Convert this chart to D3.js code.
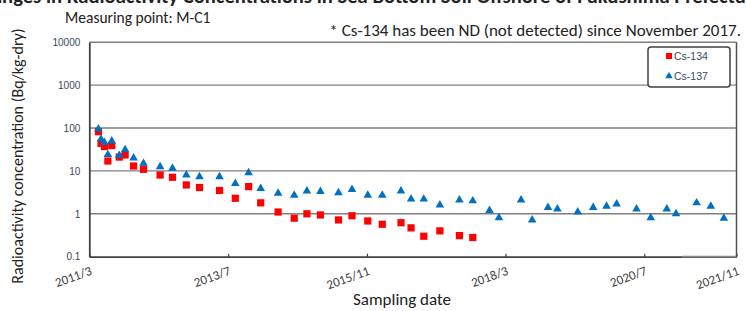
<!DOCTYPE html>
<html>
<head>
<meta charset="utf-8">
<script src="https://cdn.jsdelivr.net/npm/d3@7"></script>
<style>
  html, body { margin: 0; padding: 0; background: #fff; }
  svg { display: block; }
  .cal { font-family: Carlito, Calibri, Lato, "Open Sans", sans-serif; }
  .ari { font-family: "Liberation Sans", Arial, sans-serif; }
</style>
</head>
<body>
<svg id="chart" width="746" height="311"></svg>
<script>
// ---------- data ----------
const sampleDates = [
  "2011-04-26","2011-05-12","2011-06-02","2011-06-23","2011-07-17","2011-09-01","2011-10-07","2011-11-28",
  "2012-01-28","2012-05-09","2012-07-24","2012-10-17","2013-01-06","2013-05-09","2013-08-14","2013-11-04",
  "2014-01-17","2014-05-04","2014-08-11","2014-10-28","2015-01-19","2015-05-10","2015-08-01","2015-11-06",
  "2016-02-03","2016-05-28","2016-07-29","2016-10-15","2017-01-22","2017-05-22","2017-08-12","2017-11-23",
  "2018-01-20","2018-06-05","2018-08-12","2018-11-17","2019-01-14","2019-05-19","2019-08-22","2019-11-12",
  "2020-01-13","2020-05-14","2020-08-04","2020-10-28","2020-12-16","2021-04-04","2021-06-18","2021-08-26"
];
// Cs-134 (ND since November 2017)
const cs134 = [
  82, 44, 37, 17, 39, 21, 23.5, 13,
  10.9, 8.0, 7.1, 4.7, 4.1, 3.5, 2.3, 4.3,
  1.8, 1.1, 0.79, 1.0, 0.94, 0.72, 0.90, 0.68,
  0.57, 0.62, 0.47, 0.30, 0.40, 0.31, 0.28
];
const cs137 = [
  95, 55, 46, 24, 50, 23, 31, 20,
  15, 12.5, 11.5, 8.0, 7.3, 7.3, 5.1, 9.1,
  3.9, 3.0, 2.7, 3.4, 3.3, 3.1, 3.7, 2.7,
  2.7, 3.4, 2.2, 2.2, 1.6, 2.1, 2.0, 1.2,
  0.81, 2.1, 0.72, 1.4, 1.3, 1.1, 1.4, 1.5,
  1.7, 1.3, 0.81, 1.3, 1.0, 1.8, 1.5, 0.79
];
const yTickValues = [0.1, 1, 10, 100, 1000, 10000];
const yTickLabels = ["0.1", "1", "10", "100", "1000", "10000"];
const xTickDates = ["2011-03-01","2013-07-01","2015-11-01","2018-03-01","2020-07-01","2021-11-01"];
const xTickLabels = ["2011/3","2013/7","2015/11","2018/3","2020/7","2021/11"];
const seriesNames = ["Cs-134", "Cs-137"];
const seriesColors = ["#ff0000", "#0070c0"];

// ---------- layout ----------
const parse = d3.timeParse("%Y-%m-%d");
const L = 89.3, R = 736.5, T = 42.2, B = 256.7;
const svg = d3.select("#chart");

const xTicks = xTickDates.map(parse);
const x = d3.scaleTime()
  .domain([xTicks[0], xTicks[4], xTicks[5]])
  .range([L, 644.3, R]);
const y = d3.scaleLog().domain([0.1, 10000]).range([B, T]);

// titles (top title is cropped by the top edge, as in the source image)
svg.append("text").attr("class", "cal")
  .attr("x", -30).attr("y", 2.5)
  .attr("font-size", 20.6).attr("font-weight", "bold").attr("fill", "#222")
  .text("Changes in Radioactivity Concentrations in Sea Bottom Soil Offshore of Fukushima Prefecture");

svg.append("text").attr("class", "cal")
  .attr("x", 65).attr("y", 23)
  .attr("font-size", 15.5).attr("fill", "#222")
  .text("Measuring point: M-C1");

svg.append("text").attr("class", "cal")
  .attr("x", 741).attr("y", 36).attr("text-anchor", "end")
  .attr("font-size", 17).attr("fill", "#222")
  .text("* Cs-134 has been ND (not detected) since November 2017.");

// gridlines
svg.append("g").selectAll("line")
  .data(yTickValues.slice(1))
  .join("line")
  .attr("x1", L).attr("x2", R)
  .attr("y1", d => y(d)).attr("y2", d => y(d))
  .attr("stroke", "#7f7f7f").attr("stroke-width", 1.4);

// frame (right side)
svg.append("line").attr("x1", R).attr("x2", R).attr("y1", T).attr("y2", B)
  .attr("stroke", "#505050").attr("stroke-width", 1.5);

// y axis
const yAxis = d3.axisLeft(y)
  .tickValues(yTickValues)
  .tickFormat((d, i) => yTickLabels[i])
  .tickSize(0).tickPadding(9);
const gy = svg.append("g").attr("transform", `translate(${L},0)`).call(yAxis);
gy.select(".domain").attr("stroke", "#404040").attr("stroke-width", 1.8);
gy.selectAll("text").attr("class", "ari").attr("font-size", 10).attr("fill", "#3a4a5a");

// x axis
const xAxis = d3.axisBottom(x)
  .tickValues(xTicks)
  .tickFormat((d, i) => xTickLabels[i])
  .tickSizeInner(-3).tickSizeOuter(0);
const gx = svg.append("g").attr("transform", `translate(0,${B})`).call(xAxis);
gx.select(".domain").attr("stroke", "#404040").attr("stroke-width", 1.8);
gx.selectAll(".tick line").attr("stroke", "#404040").attr("stroke-width", 1.2);
gx.selectAll("text")
  .attr("class", "cal")
  .attr("font-size", 13).attr("fill", "#404040")
  .attr("text-anchor", "end")
  .attr("transform", "translate(2,15) rotate(-20)")
  .attr("dy", "0.2em").attr("y", 0);
// lighter tail of the bottom axis line, as in the source
svg.append("line").attr("x1", 682).attr("x2", R).attr("y1", B).attr("y2", B)
  .attr("stroke", "#8a8a8a").attr("stroke-width", 1.8);

// axis titles
svg.append("text").attr("class", "cal")
  .attr("transform", "translate(23,156) rotate(-90)")
  .attr("text-anchor", "middle").attr("font-size", 16).attr("fill", "#222")
  .text("Radioactivity concentration (Bq/kg-dry)");

svg.append("text").attr("class", "cal")
  .attr("x", 402).attr("y", 305).attr("text-anchor", "middle")
  .attr("font-size", 17).attr("fill", "#222")
  .text("Sampling date");

// series
const pts134 = cs134.map((v, i) => ({ d: parse(sampleDates[i]), v }));
const pts137 = cs137.map((v, i) => ({ d: parse(sampleDates[i]), v }));

svg.append("g").selectAll("path")
  .data(pts134).join("path")
  .attr("d", d3.symbol(d3.symbolSquare, 52))
  .attr("transform", d => `translate(${x(d.d)},${y(d.v)})`)
  .attr("fill", seriesColors[0]);

svg.append("g").selectAll("path")
  .data(pts137).join("path")
  .attr("d", d3.symbol(d3.symbolTriangle, 32))
  .attr("transform", d => `translate(${x(d.d)},${y(d.v)})`)
  .attr("fill", seriesColors[1]);

// legend
const lg = svg.append("g").attr("transform", "translate(648,47)");
lg.append("rect").attr("width", 82).attr("height", 40).attr("rx", 3)
  .attr("fill", "#fff").attr("stroke", "#404040").attr("stroke-width", 1.5);
const items = lg.selectAll("g.item").data(seriesNames).join("g")
  .attr("class", "item")
  .attr("transform", (d, i) => `translate(21,${9 + i * 20})`);
items.append("path")
  .attr("d", (d, i) => d3.symbol(i === 0 ? d3.symbolSquare : d3.symbolTriangle, i === 0 ? 36 : 24)())
  .attr("fill", (d, i) => seriesColors[i]);
items.append("text").attr("class", "ari")
  .attr("x", 5).attr("y", 3.8)
  .attr("font-size", 10.5).attr("fill", "#3a4a5a")
  .text(d => d);
</script>
</body>
</html>
